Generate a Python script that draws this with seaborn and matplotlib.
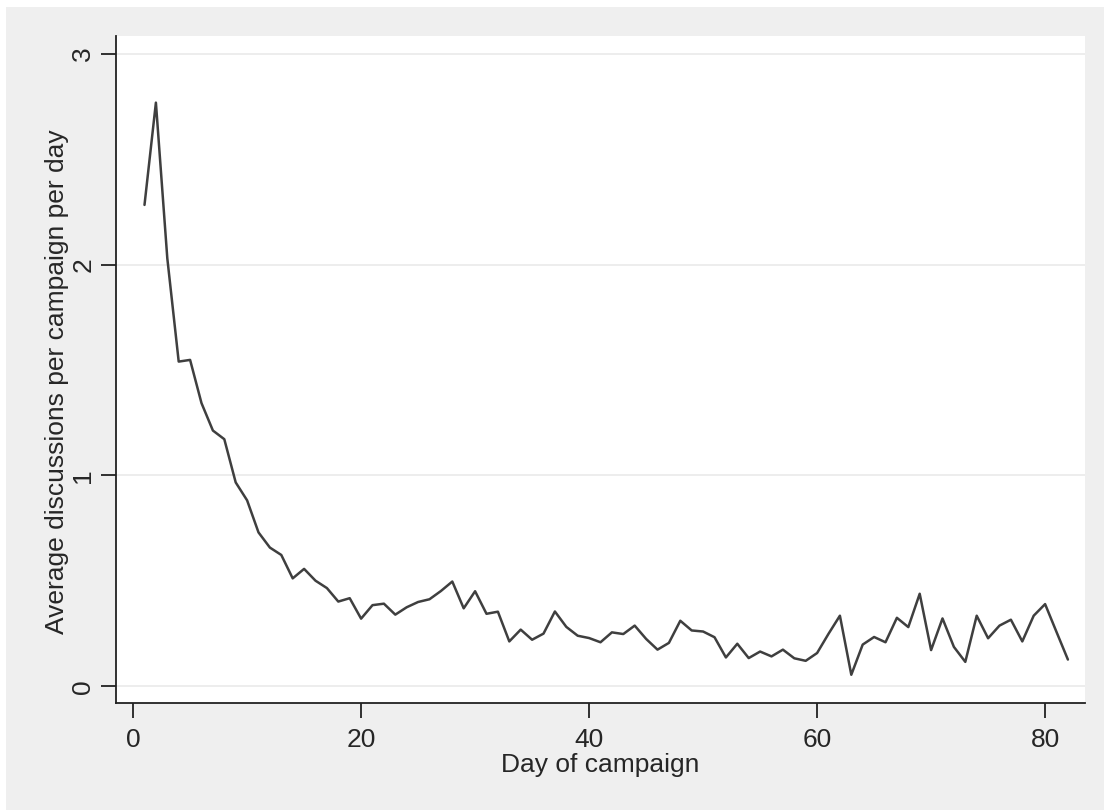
import numpy as np
import pandas as pd
import seaborn as sns
import matplotlib.pyplot as plt
from matplotlib.patches import Rectangle

# day of campaign and average discussions
days = np.arange(1, 83)
discussions = [
    2.283, 2.768, 2.030, 1.540, 1.548, 1.343, 1.213, 1.172, 0.967, 0.882,
    0.730, 0.658, 0.623, 0.512, 0.557, 0.501, 0.466, 0.402, 0.418, 0.321,
    0.385, 0.392, 0.340, 0.375, 0.400, 0.413, 0.452, 0.497, 0.370, 0.451,
    0.344, 0.354, 0.213, 0.269, 0.221, 0.250, 0.355, 0.282, 0.240, 0.229,
    0.209, 0.256, 0.248, 0.288, 0.225, 0.174, 0.206, 0.311, 0.265, 0.260,
    0.233, 0.137, 0.202, 0.134, 0.165, 0.142, 0.174, 0.133, 0.121, 0.158,
    0.249, 0.335, 0.055, 0.198, 0.234, 0.209, 0.325, 0.281, 0.439, 0.172,
    0.322, 0.187, 0.116, 0.335, 0.228, 0.288, 0.316, 0.213, 0.335, 0.390,
    0.258, 0.127,
]
x_ticks = [0, 20, 40, 60, 80]
y_ticks = [0, 1, 2, 3]

df = pd.DataFrame({"day": days, "avg": discussions})

sns.set_style("white")
plt.rcParams['font.family'] = ['Liberation Sans', 'DejaVu Sans']

W, H = 1104, 810
fig = plt.figure(figsize=(W / 100, H / 100), dpi=100)
fig.patch.set_facecolor("#efefef")
# thin white strips along the top and left edge, like the original export
fig.patches.append(Rectangle((0, 0), 6 / W, 1, transform=fig.transFigure,
                             facecolor="white", edgecolor="none"))
fig.patches.append(Rectangle((0, 1 - 7 / H), 1, 7 / H, transform=fig.transFigure,
                             facecolor="white", edgecolor="none"))

ax = fig.add_axes([116 / W, 1 - 703 / H, 969 / W, 667 / H])
ax.set_facecolor("white")

sns.lineplot(data=df, x="day", y="avg", ax=ax, color="#3f3f3f", linewidth=1.8)

ax.set_xlim(-1.5, 83.5)
ax.set_ylim(-0.079, 3.084)
ax.set_xticks(x_ticks)
ax.set_yticks(y_ticks)
ax.yaxis.grid(True, color="#ececec", linewidth=1.3)
ax.xaxis.grid(False)

for side in ["top", "right"]:
    ax.spines[side].set_visible(False)
for side in ["left", "bottom"]:
    ax.spines[side].set_color("#222222")
    ax.spines[side].set_linewidth(1.3)

ax.tick_params(axis="both", which="major", length=11, width=1.3,
               color="#222222", labelsize=19, direction="out",
               left=True, bottom=True)
ax.tick_params(axis="y", pad=4)
ax.tick_params(axis="x", pad=7)
plt.setp(ax.get_yticklabels(), rotation=90, va="center", ha="right")

ax.set_xlabel("Day of campaign", fontsize=19, labelpad=1)
ax.set_ylabel("Average discussions per campaign per day", fontsize=19)
ax.yaxis.set_label_coords(-0.0485, 0.481)

fig.savefig("out.png", dpi=100, facecolor=fig.get_facecolor())
